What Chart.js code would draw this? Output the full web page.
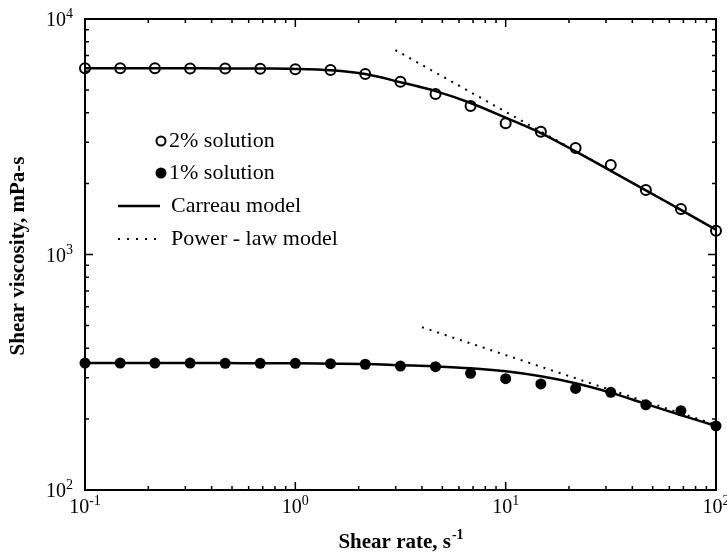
<!DOCTYPE html>
<html>
<head>
<meta charset="utf-8">
<script src="https://cdn.jsdelivr.net/npm/chart.js@4/dist/chart.umd.min.js"></script>
<style>
  html, body { margin: 0; padding: 0; background: #fff; }
  canvas { display: block; }
</style>
</head>
<body>
<canvas id="viscosityChart" width="727" height="553"></canvas>
<script>
// shear rates of the measured points (s^-1)
const shearRates = [0.1, 0.147, 0.215, 0.316, 0.464, 0.681, 1, 1.47, 2.15, 3.16, 4.64, 6.81, 10, 14.7, 21.5, 31.6, 46.4, 68.1, 100];

// measured viscosities, mPa-s
const visc2pct = [6180, 6180, 6180, 6170, 6160, 6150, 6120, 6080, 5840, 5420, 4800, 4275, 3610, 3320, 2830, 2400, 1880, 1560, 1260];
const visc1pct = [346, 346, 346, 346, 345, 345, 345, 344, 342, 336, 334, 313, 297, 282, 270, 260, 230, 217, 187];

// Carreau model curves at the same shear rates
const carreau2pct = [6180, 6180, 6180, 6175, 6170, 6160, 6140, 6060, 5840, 5390, 4940, 4400, 3810, 3280, 2740, 2265, 1872, 1548, 1274];
const carreau1pct = [346, 346, 346, 346, 346, 345, 345, 344, 343, 339, 335, 329, 319, 304, 284, 259, 232, 208, 187];

// power-law lines (straight on log-log, so just the end points)
const powerRates2pct = [2.99, 100];
const powerLaw2pct = [7380, 1276];
const powerRates1pct = [4.0, 100];
const powerLaw1pct = [491, 189];

// decade exponents for the tick labels
const xTickExps = [-1, 0, 1, 2];
const yTickExps = [2, 3, 4];

const pts = (xs, ys) => xs.map((x, i) => ({ x: x, y: ys[i] }));

const SERIF = "'Liberation Serif', 'Times New Roman', serif";

// =========================
// frame, ticks, labels, legend
// =========================
const framePlugin = {
    id: "frame",
    afterDraw(chart) {
        const ctx = chart.ctx;
        const xs = chart.scales.x, ys = chart.scales.y;
        const a = chart.chartArea;

        ctx.save();
        ctx.strokeStyle = "#000";
        ctx.fillStyle = "#000";

        // box
        ctx.lineWidth = 2;
        ctx.strokeRect(a.left, a.top, a.right - a.left, a.bottom - a.top);

        // inward ticks on all four sides
        ctx.lineWidth = 1.5;
        ctx.beginPath();
        for (let e = -1; e < 2; e++) {
            for (let m = 1; m <= 10; m++) {
                const px = xs.getPixelForValue(m * Math.pow(10, e));
                const len = (m === 1 || m === 10) ? 8 : 4;
                ctx.moveTo(px, a.bottom); ctx.lineTo(px, a.bottom - len);
                ctx.moveTo(px, a.top); ctx.lineTo(px, a.top + len);
            }
        }
        for (let e = 2; e < 4; e++) {
            for (let m = 1; m <= 10; m++) {
                const py = ys.getPixelForValue(m * Math.pow(10, e));
                const len = (m === 1 || m === 10) ? 8 : 4;
                ctx.moveTo(a.left, py); ctx.lineTo(a.left + len, py);
                ctx.moveTo(a.right, py); ctx.lineTo(a.right - len, py);
            }
        }
        ctx.stroke();

        // tick labels: 10 with a superscript exponent
        const baseFont = "20px " + SERIF;
        const supFont = "14px " + SERIF;
        const power = (e, x, y, align) => {
            ctx.font = baseFont;
            const w1 = ctx.measureText("10").width;
            ctx.font = supFont;
            const w2 = ctx.measureText(String(e)).width;
            let left = x;
            if (align === "center") left = x - (w1 + w2) / 2;
            if (align === "right") left = x - w1 - w2;
            ctx.textAlign = "left";
            ctx.textBaseline = "alphabetic";
            ctx.font = baseFont;
            ctx.fillText("10", left, y);
            ctx.font = supFont;
            ctx.fillText(String(e), left + w1, y - 8);
        };
        xTickExps.forEach(e => power(e < 0 ? "-" + (-e) : e, xs.getPixelForValue(Math.pow(10, e)), a.bottom + 23, "center"));
        yTickExps.forEach(e => power(e, ys.left - 12, ys.getPixelForValue(Math.pow(10, e)) + 7, "right"));

        // axis titles
        ctx.font = "bold 21px " + SERIF;
        ctx.textBaseline = "alphabetic";
        const xt = "Shear rate, s";
        const xtw = ctx.measureText(xt).width;
        ctx.font = "bold 14px " + SERIF;
        const xsw = ctx.measureText("-1").width;
        const xl = (a.left + a.right) / 2 - (xtw + xsw) / 2;
        ctx.font = "bold 21px " + SERIF;
        ctx.fillText(xt, xl, 548);
        ctx.font = "bold 14px " + SERIF;
        ctx.fillText("-1", xl + xtw + 1, 539);

        ctx.save();
        ctx.translate(24, 256);
        ctx.rotate(-Math.PI / 2);
        ctx.font = "bold 21px " + SERIF;
        ctx.textAlign = "center";
        ctx.fillText("Shear viscosity, mPa-s", 0, 0);
        ctx.restore();

        // legend
        ctx.font = "22px " + SERIF;
        ctx.textAlign = "left";
        ctx.textBaseline = "middle";

        ctx.lineWidth = 2;
        ctx.beginPath();
        ctx.arc(161, 141, 4.5, 0, Math.PI * 2);
        ctx.stroke();
        ctx.fillText("2% solution", 169, 141);

        ctx.beginPath();
        ctx.arc(161, 173, 5.5, 0, Math.PI * 2);
        ctx.fill();
        ctx.fillText("1% solution", 169, 173);

        ctx.lineWidth = 2.5;
        ctx.beginPath();
        ctx.moveTo(118, 206); ctx.lineTo(160, 206);
        ctx.stroke();
        ctx.fillText("Carreau model", 171, 206);

        ctx.lineWidth = 2;
        ctx.setLineDash([2, 7]);
        ctx.beginPath();
        ctx.moveTo(118, 239); ctx.lineTo(162, 239);
        ctx.stroke();
        ctx.setLineDash([]);
        ctx.fillText("Power - law model", 171, 239);

        ctx.restore();
    }
};

const lineSet = (data, dash) => ({
    data: data,
    showLine: true,
    borderColor: "#000",
    borderWidth: dash ? 2 : 2.5,
    borderDash: dash || [],
    pointRadius: 0,
    cubicInterpolationMode: "monotone",
    fill: false
});

new Chart(document.getElementById("viscosityChart").getContext("2d"), {
    type: "scatter",
    data: {
        datasets: [
            lineSet(pts(shearRates, carreau2pct)),
            lineSet(pts(shearRates, carreau1pct)),
            lineSet(pts(powerRates2pct, powerLaw2pct), [2, 6]),
            lineSet(pts(powerRates1pct, powerLaw1pct), [2, 6]),
            {
                data: pts(shearRates, visc2pct),
                pointRadius: 5,
                pointBorderWidth: 2,
                pointBorderColor: "#000",
                pointBackgroundColor: "rgba(0,0,0,0)"
            },
            {
                data: pts(shearRates, visc1pct),
                pointRadius: 5.5,
                pointBorderWidth: 0,
                pointBackgroundColor: "#000"
            }
        ]
    },
    options: {
        responsive: false,
        animation: false,
        clip: false,
        layout: { padding: { left: 85, right: 11, top: 19, bottom: 63 } },
        plugins: { legend: { display: false }, tooltip: { enabled: false } },
        scales: {
            x: { type: "logarithmic", min: 0.1, max: 100, display: false },
            y: { type: "logarithmic", min: 100, max: 10000, display: false }
        }
    },
    plugins: [framePlugin]
});
</script>
</body>
</html>
